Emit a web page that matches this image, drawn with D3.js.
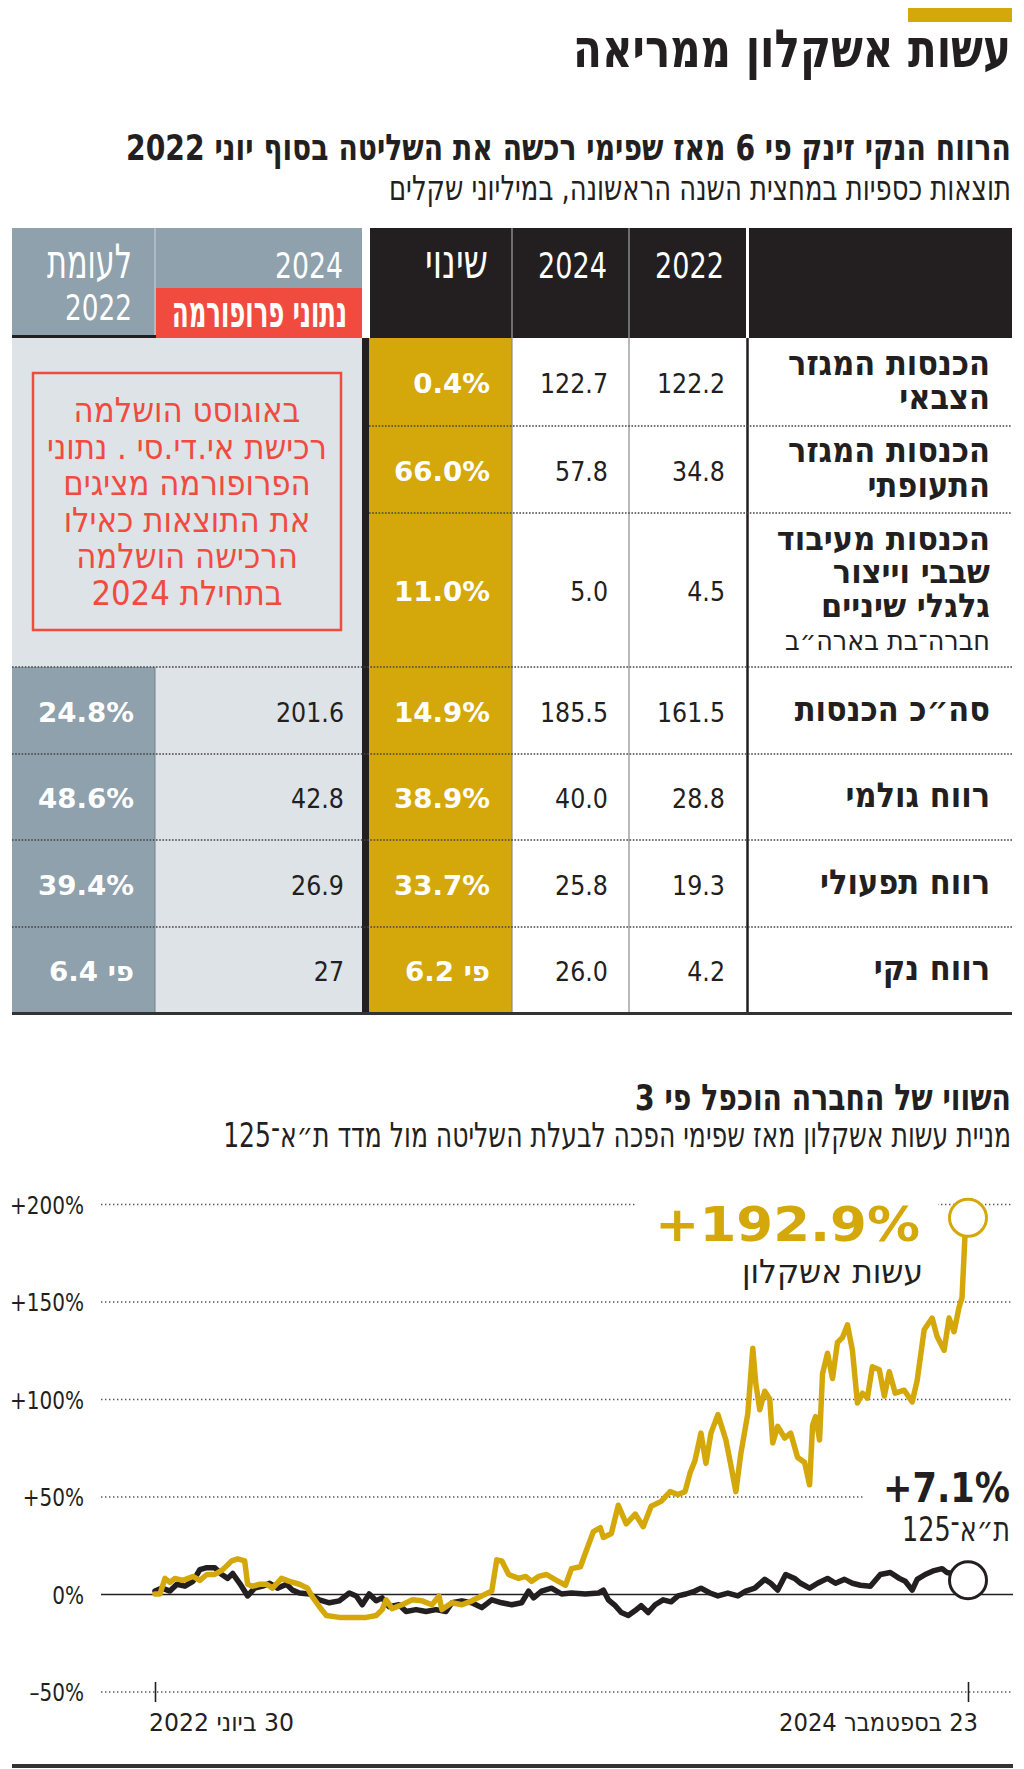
<!DOCTYPE html>
<html lang="he">
<head>
<meta charset="utf-8">
<script src="https://cdn.jsdelivr.net/npm/d3@7"></script>
<style>
  body { margin: 0; background: #fff; }
  svg text.rtl { direction: rtl; unicode-bidi: embed; }
</style>
</head>
<body>
<svg id="chart" width="1024" height="1769"></svg>
<script>

// ---- table data ----
const rowLabels = [
  ["הכנסות המגזר", "הצבאי"],
  ["הכנסות המגזר", "התעופתי"],
  ["הכנסות מעיבוד", "שבבי וייצור", "גלגלי שיניים"],
  ["סה״כ הכנסות"],
  ["רווח גולמי"],
  ["רווח תפעולי"],
  ["רווח נקי"]
];
const rowSubLabels = [null, null, "חברה־בת בארה״ב", null, null, null, null];
const vals2022 = ["122.2", "34.8", "4.5", "161.5", "28.8", "19.3", "4.2"];
const vals2024 = ["122.7", "57.8", "5.0", "185.5", "40.0", "25.8", "26.0"];
const valsChange = ["0.4%", "66.0%", "11.0%", "14.9%", "38.9%", "33.7%", "פי 6.2"];
const valsProforma = [null, null, null, "201.6", "42.8", "26.9", "27"];
const valsVsProforma = [null, null, null, "24.8%", "48.6%", "39.4%", "פי 6.4"];
const noteLines = ["באוגוסט הושלמה", "רכישת אי.די.סי . נתוני", "הפרופורמה מציגים",
                   "את התוצאות כאילו", "הרכישה הושלמה", "בתחילת 2024"];

// ---- chart data: [days since 30.6.2022, % change] ----
const startDate = new Date(2022, 5, 30);
const endDate = new Date(2024, 8, 23);
const ashkelon = [
  [0,0],[5,0],[10,8],[15,6],[20,8],[28,7],[38,9],[45,7],[52,10],[60,10],[68,12.5],[77,17],
  [83,18],[90,17],[93,5],[98,4],[105,5],[112,5],[118,3],[127,8],[135,6.5],[145,5],[153,3],
  [158,-1.5],[165,-6.5],[172,-11],[185,-12],[198,-12],[212,-12],[222,-11],[228,-8],[232,-3],
  [238,-7.5],[248,-5.5],[258,-3],[268,-3.5],[278,-5.5],[285,-1],[288,-8],[298,-4.5],[308,-5.5],
  [318,-3.5],[332,0],[338,1.5],[343,17.5],[348,17],[355,10],[365,8],[372,9],[378,6.5],[385,9],
  [393,10],[403,7],[412,4.5],[418,13],[427,14],[432,21],[440,32],[447,34],[450,29],[458,31],
  [465,45.5],[473,36],[482,41],[490,34.5],[498,45],[508,47.5],[517,52.5],[525,51],[532,52.5],
  [537,62],[542,68.5],[548,82.5],[553,67],[558,82.5],[565,92],[573,79],[578,66],[583,52.5],
  [588,72],[595,92.5],[600,126],[603,108],[607,94.5],[612,104],[617,100],[620,77.5],[625,86],
  [632,80],[638,82.5],[645,70],[652,67.5],[657,56],[660,86.5],[663,91],[667,79],[670,113],
  [675,123.5],[680,110.5],[685,129],[690,131.5],[695,138],[700,125],[705,98],[710,103],
  [715,100.5],[720,116.5],[727,115],[732,101.5],[737,114],[743,103],[752,104.5],[760,98.5],
  [765,109.5],[772,135.5],[780,141.5],[785,132],[792,125],[797,141.5],[802,134.5],[807,147],
  [810,152],[813,184],[816,192.9]
];
const ta125 = [
  [0,1.5],[7,3],[15,1.5],[22,5],[30,4],[38,6.5],[45,12.5],[52,13.5],[60,13.5],[67,10],[73,8],
  [78,10.5],[85,5.5],[93,-1],[100,3],[108,4],[115,5.5],[123,3],[132,5],[138,2],[145,0.5],
  [155,0],[165,-3],[175,-4.5],[185,-3.5],[195,0.5],[202,-1],[208,-5.5],[215,0],[222,-3.5],
  [228,-2],[235,-6.5],[245,-5.5],[252,-9],[262,-8],[272,-9],[282,-8],[292,-9],[298,-4.5],
  [308,-3.5],[318,-4.5],[328,-7],[338,-3],[348,-4.5],[358,-5.5],[368,-4.5],[375,1.5],[380,-2],
  [388,1.5],[398,3],[408,0],[418,0.5],[432,0],[445,0.5],[450,2],[455,-3],[462,-6],[468,-9.5],
  [475,-11],[482,-8.5],[488,-6],[495,-9.5],[502,-5.5],[510,-3],[518,-4],[525,-1],[533,0],
  [542,1.5],[548,3],[557,0.5],[565,-1],[575,0.5],[585,-1],[593,1.5],[602,3],[612,7.5],
  [618,5.5],[625,2],[633,10],[642,8],[648,5.5],[657,3],[665,5.5],[675,8],[683,5.5],[692,7.5],
  [700,5.5],[708,4.5],[718,4],[728,10],[738,11],[747,8],[753,6.5],[760,2],[765,7.5],[773,10],
  [782,12],[790,13],[795,11],[805,10],[816,7.1]
];
const yTicks = [-50, 0, 50, 100, 150, 200];

const GOLD = "#d4a80a", INK = "#231f20", SLATE = "#8fa1ac", MIST = "#dde3e7", RED = "#f04b3e";
const FONT = '"DejaVu Sans Condensed", "DejaVu Sans", sans-serif';

const svg = d3.select("#chart");
const ctx = document.createElement("canvas").getContext("2d");
const isHeb = s => /[\u05d0-\u05ea]/.test(s);

// font size that gives a wanted letter height (Hebrew letter or digit)
function sizeFor(h, bold, fam, sample) {
  ctx.font = (bold ? "bold " : "") + "100px " + fam;
  return h / (ctx.measureText(sample).actualBoundingBoxAscent / 100);
}
function measure(s, o) {
  const fam = o.family || FONT;
  const size = sizeFor(o.h, o.bold, fam, o.sample || (isHeb(s) ? "ה" : "0"));
  ctx.font = (o.bold ? "bold " : "") + size + "px " + fam;
  return ctx.measureText(s).width;
}
// text with letter height h, squeezed sideways to width w or by factor sx
function put(g, s, x, y, o) {
  const fam = o.family || FONT;
  const rtl = isHeb(s);
  const size = sizeFor(o.h, o.bold, fam, o.sample || (rtl ? "ה" : "0"));
  const t = g.append("text").attr("x", 0).attr("y", 0).text(s)
    .style("font-family", fam).style("font-size", size + "px")
    .style("font-weight", o.bold ? "bold" : "normal")
    .style("fill", o.fill || INK);
  if (rtl) t.attr("class", "rtl").attr("text-anchor", o.anchor || "start");
  else t.attr("text-anchor", o.anchor || "end");
  const len = t.node().getComputedTextLength();
  const sx = o.w ? o.w / len : (o.sx || 1);
  t.attr("transform", `translate(${x},${y}) scale(${sx},1)`);
  return t;
}

// ---- headline ----
svg.append("rect").attr("x", 908).attr("y", 8).attr("width", 104).attr("height", 14).attr("fill", GOLD);
put(svg, "עשות אשקלון ממריאה", 1011, 67, { h: 29, w: 438, bold: true });
put(svg, "הרווח הנקי זינק פי 6 מאז שפימי רכשה את השליטה בסוף יוני 2022", 1011, 160, { h: 20, w: 885, bold: true });
put(svg, "תוצאות כספיות במחצית השנה הראשונה, במיליוני שקלים", 1011, 200, { h: 19, w: 622 });

// ---- table ----
const tb = svg.append("g");
const rowEdges = [338, 426, 513, 667, 754, 840, 927, 1012];
const col = { vs: [12, 155], pro: [155, 362], chg: [369, 512], y24: [512, 629], y22: [629, 748], lab: [748, 1012] };

// header
tb.append("rect").attr("x", 12).attr("y", 228).attr("width", 350).attr("height", 110).attr("fill", SLATE);
tb.append("rect").attr("x", 370).attr("y", 228).attr("width", 642).attr("height", 110).attr("fill", INK);
tb.append("rect").attr("x", 156).attr("y", 288).attr("width", 206).attr("height", 50).attr("fill", RED);
tb.append("line").attr("x1", 155).attr("x2", 155).attr("y1", 228).attr("y2", 336).attr("stroke", "#b9c4cb").attr("stroke-width", 1.5);
tb.append("rect").attr("x", 12).attr("y", 335).attr("width", 144).attr("height", 3).attr("fill", INK);
[512, 629].forEach(v => tb.append("line").attr("x1", v).attr("x2", v).attr("y1", 228).attr("y2", 338)
  .attr("stroke", "#8a8a8a").attr("stroke-width", 1.5));
tb.append("line").attr("x1", 747.5).attr("x2", 747.5).attr("y1", 228).attr("y2", 338).attr("stroke", "#fff").attr("stroke-width", 3);

const head = { h: 26, fill: "#fff" };
put(tb, "שינוי", 488, 278, { ...head, w: 63 });
put(tb, "2024", 607, 278, { ...head, w: 69 });
put(tb, "2022", 724, 278, { ...head, w: 69 });
put(tb, "2024", 343, 278, { ...head, w: 68 });
put(tb, "לעומת", 132, 278, { ...head, w: 85 });
put(tb, "2022", 132, 320, { ...head, w: 67 });
put(tb, "נתוני פרופורמה", 347, 327, { h: 24, w: 175, bold: true, fill: "#fff" });

// body backgrounds
const bodyTop = rowEdges[0], bodyBottom = rowEdges[rowEdges.length - 1];
tb.append("rect").attr("x", 12).attr("y", bodyTop).attr("width", 350).attr("height", bodyBottom - bodyTop).attr("fill", MIST);
tb.append("rect").attr("x", col.vs[0]).attr("y", rowEdges[3]).attr("width", col.vs[1] - col.vs[0])
  .attr("height", bodyBottom - rowEdges[3]).attr("fill", SLATE);
tb.append("line").attr("x1", 155).attr("x2", 155).attr("y1", rowEdges[3]).attr("y2", bodyBottom).attr("stroke", "#6f828d").attr("stroke-width", 1);
tb.append("rect").attr("x", 362).attr("y", bodyTop).attr("width", 7).attr("height", bodyBottom - bodyTop).attr("fill", INK);
tb.append("rect").attr("x", col.chg[0]).attr("y", bodyTop).attr("width", col.chg[1] - col.chg[0]).attr("height", bodyBottom - bodyTop).attr("fill", GOLD);
[512, 629].forEach(v => tb.append("line").attr("x1", v).attr("x2", v).attr("y1", bodyTop).attr("y2", bodyBottom)
  .attr("stroke", "#8a8a8a").attr("stroke-width", 1.2));
tb.append("line").attr("x1", 747.5).attr("x2", 747.5).attr("y1", bodyTop).attr("y2", bodyBottom).attr("stroke", INK).attr("stroke-width", 2.5);

// dotted row separators
rowEdges.slice(1, -1).forEach((e, i) => {
  tb.append("line").attr("x1", i < 2 ? 369 : 12).attr("x2", 1012).attr("y1", e).attr("y2", e)
    .attr("stroke", "#444").attr("stroke-width", 1.6).attr("stroke-dasharray", "1.6,1.6");
});
tb.append("rect").attr("x", 12).attr("y", bodyBottom).attr("width", 1000).attr("height", 3).attr("fill", "#333");

// note box
tb.append("rect").attr("x", 33).attr("y", 373).attr("width", 308).attr("height", 257)
  .attr("fill", "none").attr("stroke", RED).attr("stroke-width", 2.5);
const noteStyle = { h: 19, fill: RED };
const noteSx = 280 / measure(noteLines[1], noteStyle);
const noteText = tb.append("text").attr("class", "rtl").attr("text-anchor", "middle")
  .attr("transform", `translate(187,422) scale(${noteSx},1)`)
  .style("font-family", FONT).style("font-size", sizeFor(19, false, FONT, "ה") + "px").style("fill", RED);
noteText.selectAll("tspan").data(noteLines).join("tspan")
  .attr("x", 0).attr("y", (d, i) => i * 36.6).text(d => d);

// rows: label lines of a row go in one text block
const labH = 19, labSize = sizeFor(labH, true, FONT, "ה");
const labSx = 202 / measure(rowLabels[0][0], { h: labH, bold: true });
const tightSize = sizeFor(18, true, FONT, "ה");
const valStyle = { h: 20, sample: "0" };
valStyle.sx = 68 / measure(vals2022[0], valStyle);
const boldVal = { h: 20, sample: "0", bold: true, fill: "#fff" };
boldVal.sx = 96 / measure(valsChange[1], boldVal);

rowLabels.forEach((lines, i) => {
  const mid = (rowEdges[i] + rowEdges[i + 1]) / 2;
  const sub = rowSubLabels[i];
  const n = lines.length + (sub ? 1 : 0);
  const step = n > 2 ? 33.5 : 35;
  const y0 = mid - (n - 1) * step / 2 + 10;
  const size = n > 2 ? tightSize : labSize;
  const sx = n > 2 ? 202 / measure(rowLabels[0][0], { h: 18, bold: true }) : labSx;
  const t = tb.append("text").attr("class", "rtl").attr("text-anchor", "start")
    .attr("transform", `translate(990,${y0}) scale(${sx},1)`)
    .style("font-family", FONT).style("fill", INK);
  lines.forEach((s, j) => t.append("tspan").attr("x", 0).attr("y", j * step)
    .style("font-weight", "bold").style("font-size", size + "px").text(s));
  if (sub) {
    // regular-weight note line, sized so it spans ~205px after the shared squeeze
    ctx.font = "100px " + FONT;
    const subSize = 100 * (205 / sx) / ctx.measureText(sub).width;
    t.append("tspan").attr("x", 0).attr("y", lines.length * step)
      .style("font-weight", "normal").style("font-size", subSize + "px").text(sub);
  }
  const vy = mid + 11;
  put(tb, vals2022[i], 725, vy, valStyle);
  put(tb, vals2024[i], 608, vy, valStyle);
  put(tb, valsChange[i], 490, vy, boldVal);
  if (valsProforma[i]) put(tb, valsProforma[i], 344, vy, valStyle);
  if (valsVsProforma[i]) put(tb, valsVsProforma[i], 134, vy, boldVal);
});

// ---- line chart ----
put(svg, "השווי של החברה הוכפל פי 3", 1011, 1110, { h: 20, w: 376, bold: true });
put(svg, "מניית עשות אשקלון מאז שפימי הפכה לבעלת השליטה מול מדד ת״א־125", 1011, 1147, { h: 19, w: 788 });

const x = d3.scaleTime().domain([startDate, endDate]).range([155, 968]);
const y = d3.scaleLinear().domain([-50, 200]).range([1691.5, 1204]);
const day = d => d3.timeDay.offset(startDate, d);

const gl = 101, gr = 1013;
const tickFmt = d => (d > 0 ? "+" : d < 0 ? "–" : "") + Math.abs(d) + "%";
const yAxis = svg.append("g").attr("transform", `translate(${gl},0)`)
  .call(d3.axisLeft(y).tickValues(yTicks).tickSize(-(gr - gl)).tickPadding(17).tickFormat(tickFmt));
yAxis.select(".domain").remove();
yAxis.selectAll(".tick line")
  .attr("stroke", d => d === 0 ? INK : "#555")
  .attr("stroke-width", d => d === 0 ? 1.6 : 1.4)
  .attr("stroke-dasharray", d => d === 0 ? null : "1.4,2.6");
const tickSx = 74 / measure("+150%", { h: 19, sample: "0" });
const tickSize = sizeFor(19, false, FONT, "0");
yAxis.selectAll(".tick text")
  .style("font-family", FONT).style("font-size", tickSize + "px").style("fill", INK)
  .attr("x", 0).attr("dy", "0.36em")
  .attr("transform", `translate(-17,0) scale(${tickSx},1)`);

// white cut-outs behind end labels
svg.append("rect").attr("x", 637).attr("y", 1196).attr("width", 301).attr("height", 16).attr("fill", "#fff");
svg.append("rect").attr("x", 864).attr("y", 1488).attr("width", 160).attr("height", 16).attr("fill", "#fff");

const xAxis = svg.append("g").attr("transform", "translate(0,1682)")
  .call(d3.axisBottom(x).tickValues([startDate, endDate]).tickSize(20).tickFormat(""));
xAxis.select(".domain").remove();
xAxis.selectAll(".tick line").attr("stroke", INK).attr("stroke-width", 1.6);

const line = d3.line().x(d => x(day(d[0]))).y(d => y(d[1])).curve(d3.curveLinear);
svg.append("path").datum(ta125).attr("d", line).attr("fill", "none")
  .attr("stroke", INK).attr("stroke-width", 5.5).attr("stroke-linejoin", "round").attr("stroke-linecap", "round");
svg.append("path").datum(ashkelon).attr("d", line).attr("fill", "none")
  .attr("stroke", GOLD).attr("stroke-width", 5.5).attr("stroke-linejoin", "round").attr("stroke-linecap", "round");

const lastA = ashkelon[ashkelon.length - 1], lastT = ta125[ta125.length - 1];
svg.append("circle").attr("cx", x(day(lastA[0]))).attr("cy", y(lastA[1])).attr("r", 18.5)
  .attr("fill", "#fff").attr("stroke", GOLD).attr("stroke-width", 3);
svg.append("circle").attr("cx", x(day(lastT[0]))).attr("cy", y(lastT[1])).attr("r", 18.5)
  .attr("fill", "#fff").attr("stroke", INK).attr("stroke-width", 3);

const pct = d3.format("+.1f");
put(svg, pct(lastA[1]) + "%", 920, 1241, { h: 36, w: 265, bold: true, fill: GOLD, family: '"DejaVu Sans", sans-serif' });
put(svg, "עשות אשקלון", 923, 1283, { h: 18, w: 181 });
put(svg, pct(lastT[1]) + "%", 1010, 1502, { h: 30, w: 127, bold: true, fill: INK, family: '"DejaVu Sans", sans-serif' });
put(svg, "ת״א־125", 1010, 1541, { h: 19, w: 108 });

// x labels
put(svg, "30 ביוני 2022", 294, 1731, { h: 19, w: 145, sample: "0" });
put(svg, "23 בספטמבר 2024", 978, 1731, { h: 19, w: 199, sample: "0" });

svg.append("rect").attr("x", 12).attr("y", 1764).attr("width", 1001).attr("height", 4).attr("fill", "#333");

</script>
</body>
</html>
